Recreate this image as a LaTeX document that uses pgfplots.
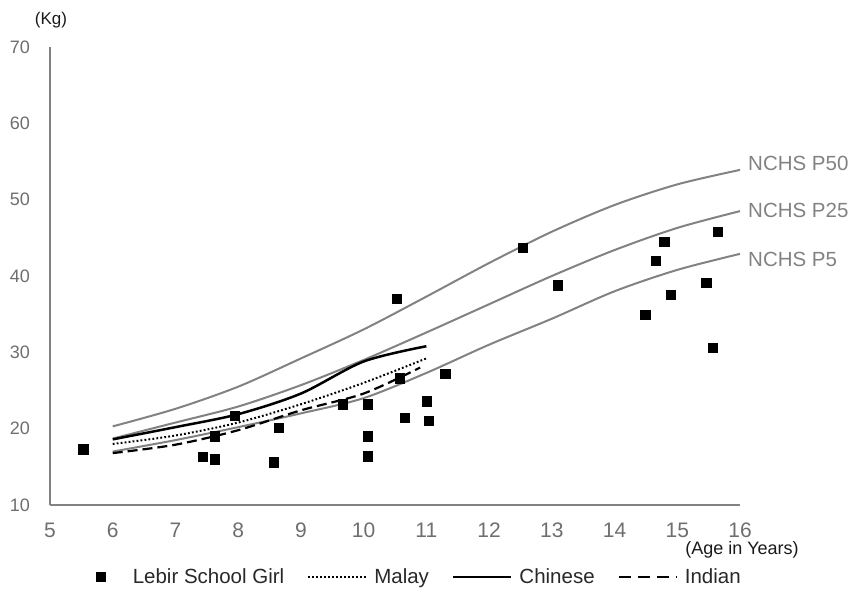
\documentclass[border=0pt]{standalone}
\usepackage{pgfplots}
\pgfplotsset{compat=1.18}
\usepackage{fontspec}
\setmainfont{Liberation Sans}
\definecolor{nchs}{RGB}{130,130,130}
\definecolor{tickc}{RGB}{110,110,110}
\definecolor{legc}{RGB}{40,40,40}
\begin{document}
\begin{tikzpicture}[x=1pt,y=1pt]
\useasboundingbox (0,0) rectangle (855,591);
\begin{axis}[
  at={(50pt,86pt)}, anchor=south west,
  scale only axis, width=690pt, height=458pt,
  xmin=5, xmax=16, ymin=10, ymax=70,
  xtick={5,...,16}, ytick={10,20,...,70},
  axis x line*=bottom, axis y line*=left,
  axis line style={draw=nchs, line width=1.6pt, -},
  major tick length=0pt,
  /pgf/number format/assume math mode=true,
  xticklabel style={font=\fontsize{21}{21}\selectfont, text=tickc, anchor=north, inner sep=0pt, yshift=-18pt},
  yticklabel style={font=\fontsize{18}{18}\selectfont, text=tickc, anchor=east, inner sep=0pt, xshift=-20pt},
  legend style={at={(0.535,-0.157)}, anchor=center, draw=none, fill=none,
    legend columns=4, font=\fontsize{20.5}{24}\selectfont, text=legc,
    /tikz/every even column/.append style={column sep=21pt},
    /tikz/every odd column/.append style={column sep=5pt}},
  legend image code/.code={\draw[#1] (0pt,0pt) -- (58pt,0pt);},
]
\addlegendimage{legend image code/.code={\fill[black] (0pt,-4.6pt) rectangle (9.2pt,4.6pt); \path[draw=none,fill=none] (0pt,-1pt) rectangle (30pt,1pt);}}
\addlegendentry{Lebir School Girl}
\addlegendimage{black, line width=2pt, dash pattern=on 1.8pt off 2.2pt}
\addlegendentry{Malay}
\addlegendimage{black, line width=2.5pt}
\addlegendentry{Chinese}
\addlegendimage{black, line width=2.2pt, dash pattern=on 12pt off 7pt}
\addlegendentry{Indian}

% NCHS curves
\addplot[nchs, line width=2pt, smooth, forget plot] coordinates {(6,20.3)(7,22.6)(8,25.5)(9,29.2)(10,33.0)(11,37.3)(12,41.7)(13,45.8)(14,49.3)(15,52.0)(16,53.9)};
\addplot[nchs, line width=2pt, smooth, forget plot] coordinates {(6,18.7)(7,20.8)(8,22.9)(9,25.7)(10,29.0)(11,32.6)(12,36.3)(13,40.0)(14,43.4)(15,46.3)(16,48.5)};
\addplot[nchs, line width=2pt, smooth, forget plot] coordinates {(6,17.0)(7,18.5)(8,20.2)(9,22.0)(10,24.0)(11,27.3)(12,31.0)(13,34.4)(14,38.0)(15,40.8)(16,42.9)};

% Ethnic curves
\addplot[black, line width=2.5pt, smooth, forget plot] coordinates {(6,18.6)(7,20.2)(8,21.9)(9,24.6)(10,28.8)(11,30.8)};
\addplot[black, line width=2pt, dash pattern=on 1.8pt off 2.2pt, smooth, forget plot] coordinates {(6,18.0)(7,19.1)(8,20.8)(9,23.2)(10,26.0)(11,29.2)};
\addplot[black, line width=2.2pt, dash pattern=on 10pt off 5pt, smooth, forget plot] coordinates {(6,16.8)(7,17.9)(8,19.8)(9,22.4)(10,24.6)(10.9,28.0)};

% Lebir School Girl
\addplot[only marks, mark=square*, mark size=4.6pt, black, forget plot] coordinates {
(5.53,17.3)(7.44,16.3)(7.63,16.0)(7.63,19.0)(7.95,21.7)(8.65,20.1)(8.56,15.6)
(9.66,23.2)(10.07,23.2)(10.07,19.0)(10.07,16.4)(10.53,37.0)(10.57,26.6)(10.65,21.4)
(11.0,23.6)(11.04,21.0)(11.30,27.2)(12.54,43.7)(13.1,38.8)(14.49,34.9)(14.65,42.0)
(14.79,44.5)(14.89,37.5)(15.46,39.1)(15.57,30.6)(15.64,45.8)};
\end{axis}
\node[anchor=center, inner sep=0pt, font=\fontsize{17}{17}\selectfont, text=black!90] at (51,571) {(Kg)};
\node[anchor=center, inner sep=0pt, font=\fontsize{18}{18}\selectfont, text=black!90] at (742,41) {(Age in Years)};
\node[anchor=west, inner sep=0pt, font=\fontsize{20.5}{20.5}\selectfont, text=nchs] at (748,428) {NCHS P50};
\node[anchor=west, inner sep=0pt, font=\fontsize{20.5}{20.5}\selectfont, text=nchs] at (748,381) {NCHS P25};
\node[anchor=west, inner sep=0pt, font=\fontsize{20.5}{20.5}\selectfont, text=nchs] at (748,332) {NCHS P5};
\end{tikzpicture}
\end{document}
